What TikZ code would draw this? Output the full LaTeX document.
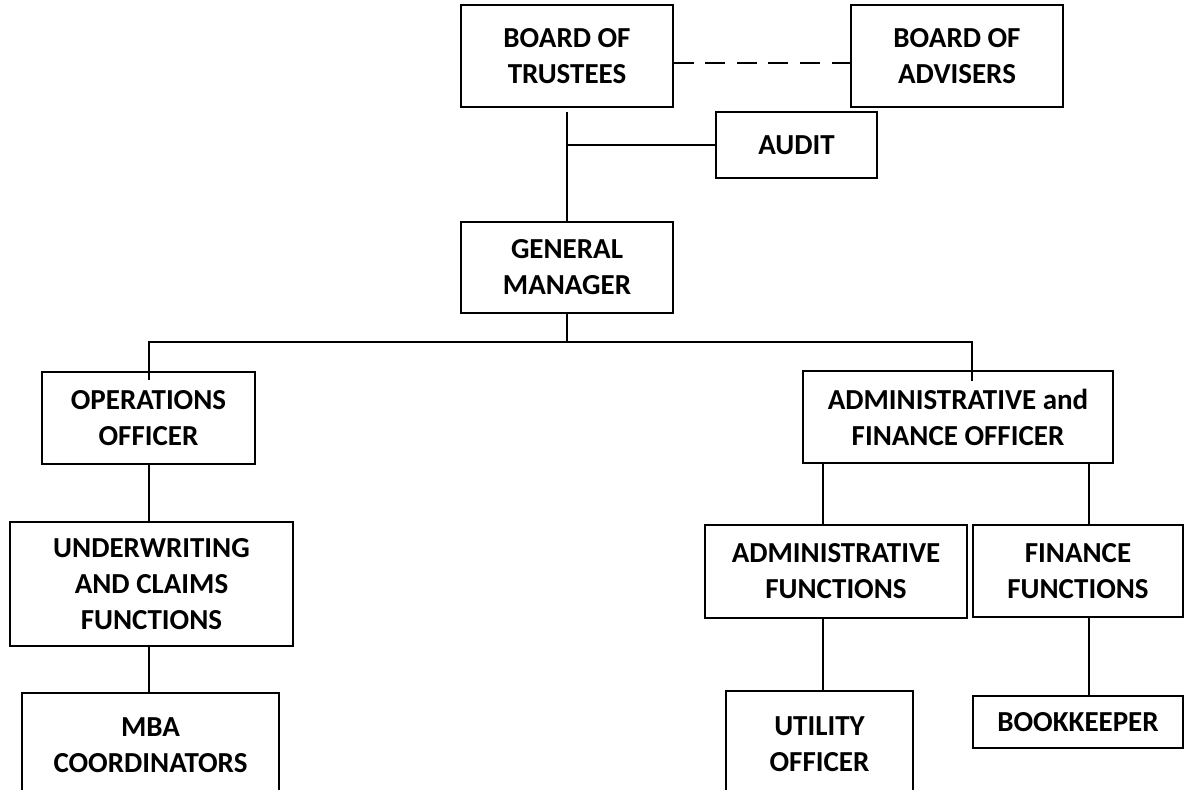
\documentclass[tikz,border=0pt]{standalone}
\usepackage{fontspec}
\setmainfont{Carlito}
\begin{document}
\begin{tikzpicture}
    [
    x=0.02cm, y=-0.02cm,
    every node/.style={draw,rectangle,align=center,inner sep=0pt,line width=0.8pt,
      font=\fontsize{16.5}{20.5}\selectfont\bfseries},
    orgbox/.style 2 args={minimum width=#1*0.02cm,minimum height=#2*0.02cm},
    link/.style={line width=0.8pt},
    ]
    \useasboundingbox (0,0) rectangle (1185,790);
    \clip (0,0) rectangle (1185,790);
    % boards
    \node[orgbox={212}{102}] (trustees) at (567,56) {BOARD OF\\TRUSTEES};
    \node[orgbox={212}{102}] (advisers) at (957,56) {BOARD OF\\ADVISERS};
    \node[orgbox={161}{66}] (audit) at (796.5,145) {AUDIT};
    \node[orgbox={212}{91}] (gm) at (567,267.5) {GENERAL\\MANAGER};
    % officers
    \node[orgbox={213}{92}] (ops) at (148.5,418) {OPERATIONS\\OFFICER};
    \node[orgbox={310}{92}] (afo) at (958,417) {ADMINISTRATIVE and\\FINANCE OFFICER};
    % functions
    \node[orgbox={283}{124}] (uw) at (151.5,584) {UNDERWRITING\\AND CLAIMS\\FUNCTIONS};
    \node[orgbox={262}{93}] (adminf) at (836,571.5) {ADMINISTRATIVE\\FUNCTIONS};
    \node[orgbox={210}{92}] (finf) at (1078,571) {FINANCE\\FUNCTIONS};
    % staff
    \node[orgbox={257}{104}] (mba) at (150.5,745) {MBA\\COORDINATORS};
    \node[orgbox={187}{106}] (utility) at (819.5,744) {UTILITY\\OFFICER};
    \node[orgbox={210}{52}] (bookkeeper) at (1078,722) {BOOKKEEPER};

    \coordinate (bus) at (567,342);
    \coordinate (opsin) at (149,380);
    \coordinate (afoin) at (972,381);
    \coordinate (opsx) at (149,0);
    \coordinate (admx) at (823,0);
    \coordinate (finx) at (1089,0);

    \draw[link,dash pattern=on 0.4cm off 0.232cm]
      ([yshift=-0.14cm]trustees.east) -- ([yshift=-0.14cm]advisers.west);
    \draw[link] ([yshift=-0.08cm]trustees.south) -- (gm.north);
    \draw[link] (audit.west) -- (audit.west -| gm.north);
    \draw[link] (gm.south) -- (bus);
    \draw[link] (opsin) |- (bus) -| (afoin);
    \draw[link] (ops.south -| opsx) -- (uw.north -| opsx);
    \draw[link] (uw.south -| opsx) -- (mba.north -| opsx);
    \draw[link] (afo.south -| admx) -- (adminf.north -| admx);
    \draw[link] (adminf.south -| admx) -- (utility.north -| admx);
    \draw[link] (afo.south -| finx) -- (finf.north -| finx);
    \draw[link] (finf.south -| finx) -- (bookkeeper.north -| finx);
\end{tikzpicture}
\end{document}
